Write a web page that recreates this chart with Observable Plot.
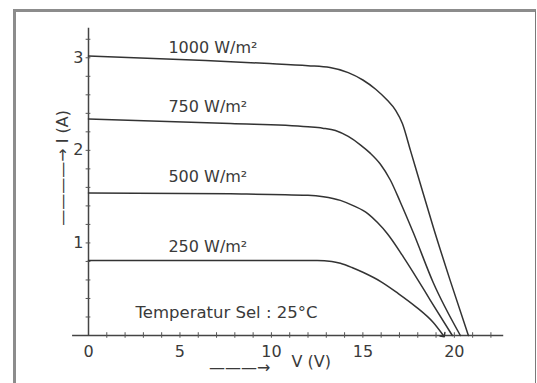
<!DOCTYPE html>
<html><head><meta charset="utf-8">
<script src="https://cdn.jsdelivr.net/npm/d3@7"></script>
<script src="https://cdn.jsdelivr.net/npm/@observablehq/plot@0.6"></script>
<style>
html,body{margin:0;padding:0;background:#fff;}
#wrap{position:relative;width:537px;height:383px;overflow:hidden;background:#fff;}
#frame{position:absolute;left:13px;top:9px;width:523px;height:380px;box-sizing:border-box;border-top:3px solid #8c8c8c;border-left:3px solid #8c8c8c;border-right:1.5px solid #7a7a7a;pointer-events:none;}
</style></head><body><div id="wrap"><div id="frame"></div></div>
<script>
// Series (V in volts, I in amperes)
const series = ["1000 W/m²", "750 W/m²", "500 W/m²", "250 W/m²"];
const v1000 = [0, 6.4, 9.6, 12.0, 13.2, 14.2, 15.0, 15.7, 16.34, 16.8, 17.16, 17.6, 18.14, 18.85, 19.78, 20.77];
const i1000 = [3.02, 2.97, 2.94, 2.915, 2.895, 2.84, 2.76, 2.66, 2.54, 2.43, 2.29, 2.00, 1.64, 1.17, 0.59, 0];
const v750 = [0, 7.76, 12.0, 12.8, 13.5, 14.2, 14.86, 15.4, 15.96, 16.5, 17.05, 17.76, 18.85, 20.33];
const i750 = [2.34, 2.29, 2.255, 2.24, 2.215, 2.15, 2.06, 1.97, 1.85, 1.68, 1.44, 1.11, 0.57, 0];
const v500 = [0, 7.76, 12.0, 12.84, 13.77, 14.5, 15.25, 15.8, 16.34, 17.21, 17.98, 18.69, 19.89];
const i500 = [1.54, 1.53, 1.515, 1.50, 1.46, 1.40, 1.32, 1.22, 1.10, 0.85, 0.61, 0.38, 0];
const v250 = [0, 7.0, 12.5, 13.3, 13.77, 14.4, 15.03, 16.0, 16.89, 17.9, 18.85, 19.40];
const i250 = [0.81, 0.81, 0.81, 0.80, 0.78, 0.735, 0.68, 0.58, 0.46, 0.31, 0.14, 0];

// Curve label anchors (V, I)
const labelV = [4.37, 4.37, 4.37, 4.37];
const labelI = [3.11, 2.47, 1.71, 0.96];

// Axis ticks and texts
const xTicks = [0, 5, 10, 15, 20];
const yTicks = [1, 2, 3];
const xMinor = d3.range(1, 23);
const yMinor = d3.range(0.2, 3.3, 0.2);
const xAxisExtent = [-0.87, 22.7];
const yAxisTop = 3.32;
const noteText = "Temperatur Sel : 25°C";
const noteAt = [2.57, 0.25];
const yLabelText = "————→ I (A)";
const yLabelAt = [-1.42, 1.81];
const xArrowText = "———→";
const xArrowAt = [9.95, -0.35];
const xLabelText = "V (V)";
const xLabelAt = [11.1, -0.29];

const toRows = (name, vs, is) => vs.map((v, k) => ({series: name, V: v, I: is[k]}));
const upper = [
  ...toRows(series[0], v1000, i1000),
  ...toRows(series[1], v750, i750),
  ...toRows(series[2], v500, i500)
];
const lower = toRows(series[3], v250, i250);
const labels = series.map((s, k) => ({text: s, V: labelV[k], I: labelI[k]}));

const ink = "#333";
const chart = Plot.plot({
  width: 537,
  height: 383,
  marginLeft: 88,
  marginRight: 10,
  marginTop: 11,
  marginBottom: 48,
  x: {domain: [0, 24]},
  y: {domain: [0, 3.5]},
  style: {fontFamily: "DejaVu Sans", fontSize: "16px", color: "#3a3a3a", background: "transparent"},
  marks: [
    Plot.ruleY([0], {x1: xAxisExtent[0], x2: xAxisExtent[1], stroke: "#444", strokeWidth: 1.5}),
    Plot.ruleX([0], {y1: 0, y2: yAxisTop, stroke: "#444", strokeWidth: 1.5}),
    Plot.ruleX(xMinor, {y1: -0.03, y2: 0.03, stroke: "#555", strokeWidth: 1}),
    Plot.ruleY(yMinor, {x1: -0.13, x2: 0.13, stroke: "#555", strokeWidth: 1}),
    Plot.axisX({ticks: xTicks, tickSize: 0, tickPadding: 10, label: null, fontSize: 16, tickFormat: d3.format("d")}),
    Plot.axisY({ticks: yTicks, tickSize: 0, tickPadding: 5, label: null, fontSize: 16, tickFormat: d3.format("d")}),
    Plot.line(upper, {x: "V", y: "I", z: "series", stroke: ink, strokeWidth: 1.5, curve: "monotone-x"}),
    Plot.line(lower, {x: "V", y: "I", stroke: ink, strokeWidth: 1.5, curve: "monotone-x", markerEnd: "arrow"}),
    Plot.text(labels, {x: "V", y: "I", text: "text", textAnchor: "start", fontSize: 16, fill: "#3a3a3a"}),
    Plot.text([noteText], {x: noteAt[0], y: noteAt[1], text: d => d, textAnchor: "start", fontSize: 16.5, fill: "#3a3a3a"}),
    Plot.text([yLabelText], {x: yLabelAt[0], y: yLabelAt[1], text: d => d, rotate: -90, fontSize: 16, fill: "#3a3a3a"}),
    Plot.text([xArrowText], {x: xArrowAt[0], y: xArrowAt[1], text: d => d, textAnchor: "end", fontSize: 16, fill: "#3a3a3a"}),
    Plot.text([xLabelText], {x: xLabelAt[0], y: xLabelAt[1], text: d => d, textAnchor: "start", fontSize: 16, fill: "#3a3a3a"})
  ]
});
chart.style.position = "absolute";
chart.style.left = "0";
chart.style.top = "0";
document.getElementById("wrap").appendChild(chart);
</script>
</body></html>
